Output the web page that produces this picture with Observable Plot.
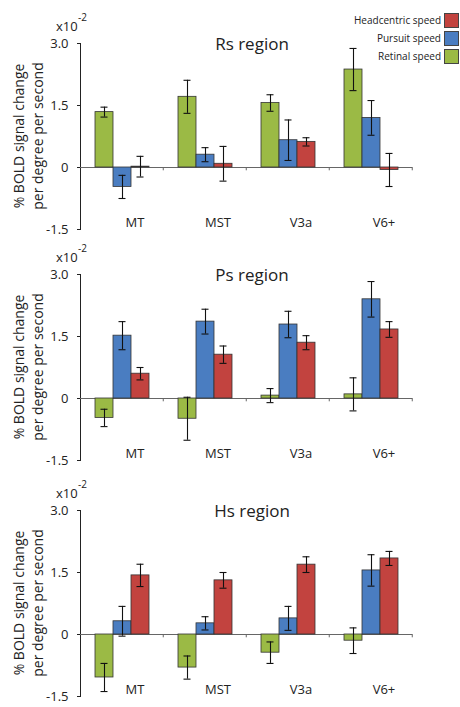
<!DOCTYPE html>
<html>
<head>
<meta charset="utf-8">
<script src="https://cdn.jsdelivr.net/npm/d3@7"></script>
<script src="https://cdn.jsdelivr.net/npm/@observablehq/plot@0.6"></script>
<style>
  body { margin: 0; background: #fff; }
  #root { position: relative; width: 460px; height: 707px; background: #fff; font-family: "Open Sans", sans-serif; color: #222; overflow: hidden; }
  .panel { position: absolute; left: 0; }
  .title { position: absolute; font-size: 17px; line-height: 17px; white-space: nowrap; transform: translateX(-50%); }
  .ylab { position: absolute; font-size: 14px; line-height: 14px; white-space: nowrap; transform: translate(-50%, -50%) rotate(-90deg); }
  .exp { position: absolute; font-size: 13px; line-height: 13px; white-space: nowrap; }
  .expsup { position: absolute; font-size: 10px; line-height: 10px; white-space: nowrap; }
  .leg { position: absolute; font-size: 10px; line-height: 14px; white-space: nowrap; text-align: right; }
  .sw { position: absolute; width: 13px; height: 13px; border: 1px solid #444; }
</style>
</head>
<body>
<div id="root"></div>
<script>
// ---- data ----
const areas = ["MT", "MST", "V3a", "V6+"];
const series = ["Retinal speed", "Pursuit speed", "Headcentric speed"];
const legendOrder = ["Headcentric speed", "Pursuit speed", "Retinal speed"];
const colors = ["#9bba45", "#4a7dc1", "#c2433f"];
const regions = ["Rs region", "Ps region", "Hs region"];
const yTicks = [-1.5, 0, 1.5, 3.0];
const yTickLabels = ["-1.5", "0", "1.5", "3.0"];

// Rs region
const rsRetinal = [1.34, 1.71, 1.56, 2.37];
const rsRetinalErr = [0.12, 0.40, 0.20, 0.51];
const rsPursuit = [-0.47, 0.31, 0.66, 1.20];
const rsPursuitErr = [0.28, 0.17, 0.49, 0.42];
const rsHead = [0.02, 0.09, 0.62, -0.06];
const rsHeadErr = [0.25, 0.42, 0.10, 0.40];

// Ps region
const psRetinal = [-0.47, -0.49, 0.07, 0.10];
const psRetinalErr = [0.21, 0.52, 0.17, 0.40];
const psPursuit = [1.52, 1.86, 1.79, 2.40];
const psPursuitErr = [0.34, 0.30, 0.32, 0.43];
const psHead = [0.60, 1.06, 1.35, 1.67];
const psHeadErr = [0.15, 0.21, 0.17, 0.19];

// Hs region
const hsRetinal = [-1.04, -0.80, -0.44, -0.15];
const hsRetinalErr = [0.34, 0.28, 0.26, 0.31];
const hsPursuit = [0.32, 0.27, 0.39, 1.55];
const hsPursuitErr = [0.36, 0.16, 0.29, 0.38];
const hsHead = [1.43, 1.31, 1.69, 1.84];
const hsHeadErr = [0.27, 0.19, 0.19, 0.17];

const panelValues = [
  [[rsRetinal, rsRetinalErr], [rsPursuit, rsPursuitErr], [rsHead, rsHeadErr]],
  [[psRetinal, psRetinalErr], [psPursuit, psPursuitErr], [psHead, psHeadErr]],
  [[hsRetinal, hsRetinalErr], [hsPursuit, hsPursuitErr], [hsHead, hsHeadErr]]
];

// ---- layout ----
const root = document.getElementById("root");
const panelTops = [3.3, 234, 470];
const W = 460, H = 236, MT = 40, MB = 10, ML = 79, MR = 47;

function buildRows(p) {
  const rows = [];
  panelValues[p].forEach(([vals, errs], si) => {
    areas.forEach((a, ai) => {
      rows.push({area: a, series: series[si], value: vals[ai], err: errs[ai]});
    });
  });
  return rows;
}

regions.forEach((region, p) => {
  const rows = buildRows(p);
  const chart = Plot.plot({
    width: W, height: H,
    marginTop: MT, marginBottom: MB, marginLeft: ML, marginRight: MR,
    style: {fontFamily: "Open Sans, sans-serif", fontSize: "13px", color: "#222", background: "transparent", overflow: "visible"},
    fx: {domain: areas, padding: 0, axis: null},
    x: {domain: series, paddingInner: 0, paddingOuter: 0.7, axis: null},
    y: {domain: [-1.5, 3.0], ticks: yTicks, tickFormat: (d) => yTickLabels[yTicks.indexOf(d)], tickSize: 3, tickPadding: 9, label: null, line: true},
    color: {domain: series, range: colors},
    marks: [
      Plot.ruleY([0], {stroke: "#666", strokeWidth: 1}),
      Plot.ruleX(areas, {fx: (d) => d, x: () => series[2], y1: 0, y2: -0.08, dx: 22.75, stroke: "#666"}),
      Plot.barY(rows, {fx: "area", x: "series", y: "value", fill: "series", stroke: "#333", strokeWidth: 0.8, inset: 0}),
      Plot.ruleX(rows, {fx: "area", x: "series", y1: (d) => d.value - d.err, y2: (d) => d.value + d.err, stroke: "#111", strokeWidth: 1.1}),
      Plot.tickY(rows, {fx: "area", x: "series", y: (d) => d.value - d.err, stroke: "#111", strokeWidth: 1.1, insetLeft: 5.5, insetRight: 5.5}),
      Plot.tickY(rows, {fx: "area", x: "series", y: (d) => d.value + d.err, stroke: "#111", strokeWidth: 1.1, insetLeft: 5.5, insetRight: 5.5}),
      Plot.text(areas, {fx: (d) => d, text: (d) => d, frameAnchor: "bottom", dx: 13, dy: -3, fontSize: 13, fill: "#222"})
    ]
  });
  const div = document.createElement("div");
  div.className = "panel";
  div.style.top = panelTops[p] + "px";
  div.appendChild(chart);
  root.appendChild(div);

  const y30 = panelTops[p] + MT; // pixel y of 3.0 tick
  const yMid = panelTops[p] + MT + (H - MT - MB) / 2;

  const t = document.createElement("div");
  t.className = "title";
  t.textContent = region;
  t.style.left = "252px";
  t.style.top = (y30 - 8) + "px";
  root.appendChild(t);

  const e = document.createElement("div");
  e.className = "exp";
  e.textContent = "x10";
  e.style.left = "56px";
  e.style.top = (y30 - 23) + "px";
  root.appendChild(e);

  const es = document.createElement("div");
  es.className = "expsup";
  es.textContent = "-2";
  es.style.left = "78px";
  es.style.top = (y30 - 31) + "px";
  root.appendChild(es);

  const l1 = document.createElement("div");
  l1.className = "ylab";
  l1.textContent = "% BOLD signal change";
  l1.style.left = "19px";
  l1.style.top = yMid + "px";
  root.appendChild(l1);

  const l2 = document.createElement("div");
  l2.className = "ylab";
  l2.textContent = "per degree per second";
  l2.style.left = "38px";
  l2.style.top = yMid + "px";
  root.appendChild(l2);
});

// legend (top right)
legendOrder.forEach((s, i) => {
  const cy = 20 + i * 18;
  const lab = document.createElement("div");
  lab.className = "leg";
  lab.textContent = s;
  lab.style.right = (460 - 441) + "px";
  lab.style.top = (cy - 7) + "px";
  root.appendChild(lab);
  const sw = document.createElement("div");
  sw.className = "sw";
  sw.style.left = "444px";
  sw.style.top = (cy - 7) + "px";
  sw.style.background = colors[series.indexOf(s)];
  root.appendChild(sw);
});
</script>
</body>
</html>
